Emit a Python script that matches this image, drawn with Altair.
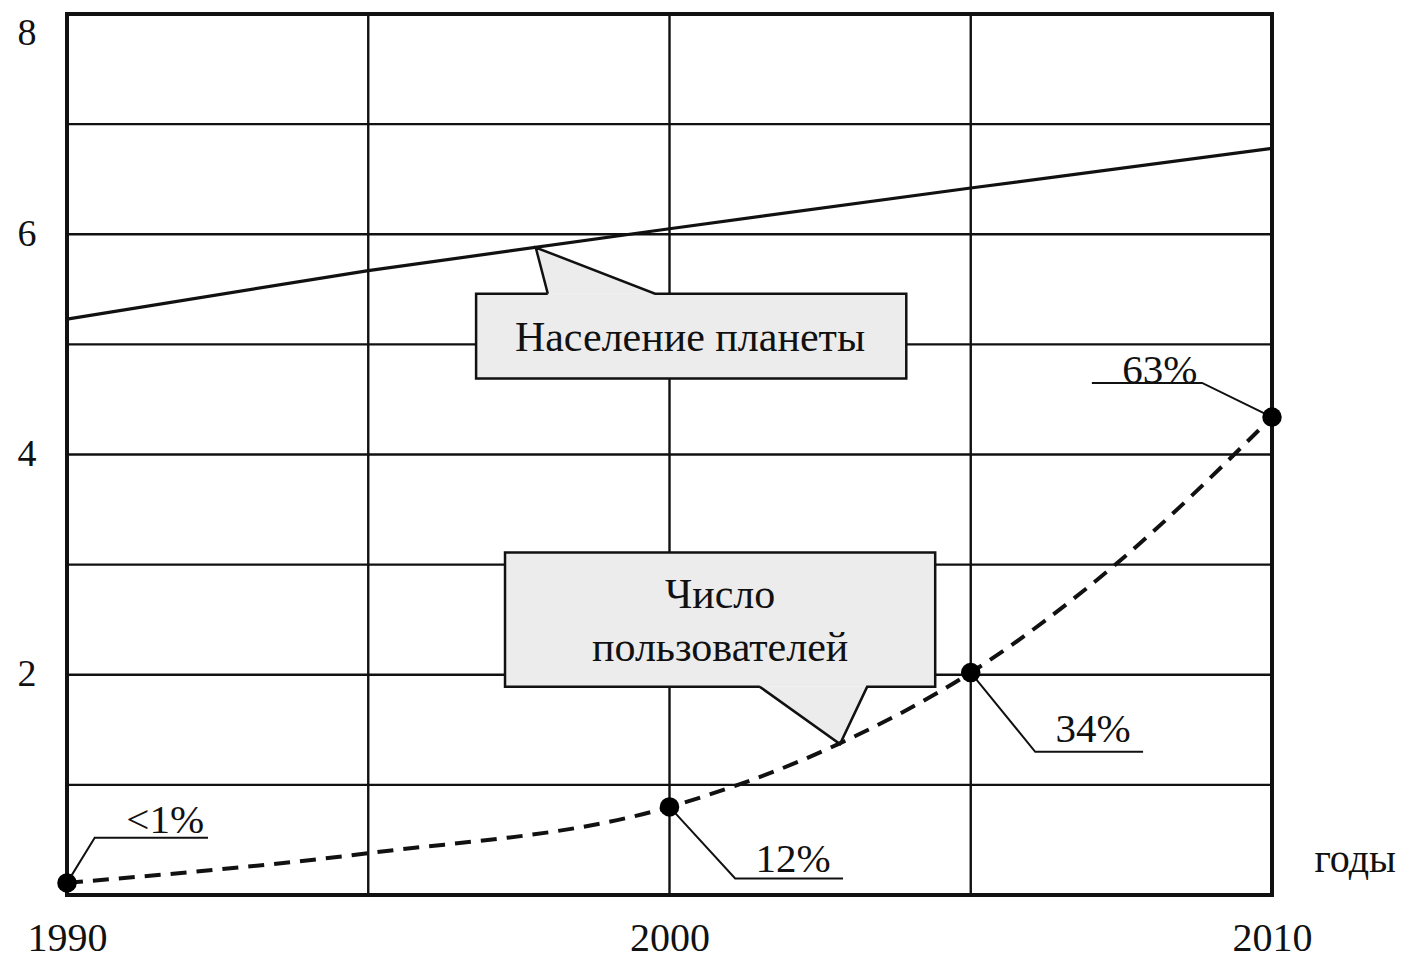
import altair as alt
import pandas as pd

FONT = "Liberation Serif"

# --- data ---
pop_years = [1990, 1995, 2000, 2005, 2010]
pop_values = [5.23, 5.67, 6.05, 6.42, 6.78]

user_years = [1990, 1995, 2000, 2002.8, 2005, 2007.4, 2010]
user_values = [0.11, 0.38, 0.80, 1.37, 2.02, 3.00, 4.34]

marker_years = [1990, 2000, 2005, 2010]
marker_values = [0.11, 0.80, 2.02, 4.34]
marker_labels = ["<1%", "12%", "34%", "63%"]

x_labels = [1990, 2000, 2010]
y_labels = [2, 4, 6, 8]
grid_years = [1995, 2000, 2005]
grid_values = [1, 2, 3, 4, 5, 6, 7]

# --- annotations (in data units) ---
box_x0 = [1996.79, 1997.27]
box_x1 = [2003.93, 2004.41]
box_y0 = [4.69, 1.89]
box_y1 = [5.46, 3.11]

outline_group = ["pop"] * 8 + ["usr"] * 8
outline_order = list(range(8)) * 2
outline_x = [1997.98, 1996.79, 1996.79, 2003.93, 2003.93, 1999.76, 1997.78, 1997.98,
             2001.50, 1997.27, 1997.27, 2004.41, 2004.41, 2003.28, 2002.83, 2001.50]
outline_y = [5.46, 5.46, 4.69, 4.69, 5.46, 5.46, 5.88, 5.46,
             1.89, 1.89, 3.11, 3.11, 1.89, 1.89, 1.37, 1.89]

ptr_group = ["pop"] * 3 + ["usr"] * 3
ptr_x = [1997.78, 1997.98, 1999.76, 2001.50, 2002.83, 2003.28]
ptr_top = [5.88, 5.838, 5.46, 1.89, 1.89, 1.89]
ptr_bot = [5.88, 5.46, 5.46, 1.89, 1.37, 1.89]

callout_text = ["Население планеты", "Число", "пользователей"]
callout_x = [2000.34, 2000.84, 2000.84]
callout_y = [5.06, 2.72, 2.24]

pct_x = [1991.63, 2002.05, 2007.03, 2008.14]
pct_y = [0.56, 0.21, 1.39, 4.65]

leader_group = ["a"] * 3 + ["b"] * 3 + ["c"] * 3 + ["d"] * 3
leader_order = [0, 1, 2] * 4
leader_x = [1990, 1990.46, 1992.34, 2000, 2001.09, 2002.88,
            2005, 2006.07, 2007.86, 2010, 2008.84, 2007.01]
leader_y = [0.11, 0.52, 0.52, 0.80, 0.15, 0.15,
            2.02, 1.30, 1.30, 4.34, 4.65, 4.65]

unit_label = ["годы"]
unit_x = [2011.38]
unit_y = [0.32]

# --- tables ---
pop_df = pd.DataFrame({"year": pop_years, "value": pop_values})
usr_df = pd.DataFrame({"year": user_years, "value": user_values})
mk_df = pd.DataFrame({"year": marker_years, "value": marker_values})
pct_df = pd.DataFrame({"year": pct_x, "value": pct_y, "label": marker_labels})
gx_df = pd.DataFrame({"year": grid_years})
gy_df = pd.DataFrame({"value": grid_values})
box_df = pd.DataFrame({"x0": box_x0, "x1": box_x1, "y0": box_y0, "y1": box_y1})
out_df = pd.DataFrame({"g": outline_group, "o": outline_order, "year": outline_x, "value": outline_y})
ptr_df = pd.DataFrame({"g": ptr_group, "year": ptr_x, "top": ptr_top, "bot": ptr_bot})
txt_df = pd.DataFrame({"year": callout_x, "value": callout_y, "label": callout_text})
lead_df = pd.DataFrame({"g": leader_group, "o": leader_order, "year": leader_x, "value": leader_y})
unit_df = pd.DataFrame({"year": unit_x, "value": unit_y, "label": unit_label})

xs = alt.Scale(domain=[1990, 2010], nice=False, zero=False)
ys = alt.Scale(domain=[0, 8], nice=False, zero=True)
xaxis = alt.Axis(values=x_labels, title=None, grid=False, domain=False, ticks=False,
                 labelFont=FONT, labelFontSize=40, labelColor="#111", labelPadding=23,
                 labelFlush=False, format="d", labelOverlap=False)
yaxis = alt.Axis(values=y_labels, title=None, grid=False, domain=False, ticks=False,
                 labelFont=FONT, labelFontSize=38, labelColor="#111", labelPadding=31,
                 labelFlush=True, labelOverlap=False)


def X(f="year"):
    return alt.X(f, type="quantitative", scale=xs, axis=xaxis)


def Y(f="value"):
    return alt.Y(f, type="quantitative", scale=ys, axis=yaxis)


grid_x = alt.Chart(gx_df).mark_rule(color="#111", strokeWidth=2.4).encode(x=X())
grid_y = alt.Chart(gy_df).mark_rule(color="#111", strokeWidth=2.4).encode(y=Y())

pop_line = alt.Chart(pop_df).mark_line(color="#111", strokeWidth=3.2).encode(x=X(), y=Y())

boxes = alt.Chart(box_df).mark_rect(fill="#ececec").encode(
    x=X("x0"), x2="x1", y=Y("y0"), y2="y1")
pointers = alt.Chart(ptr_df).mark_area(fill="#ececec", interpolate="linear").encode(
    x=X(), y=Y("top"), y2="bot", detail="g:N")
outlines = alt.Chart(out_df).mark_line(color="#111", strokeWidth=2.5, strokeJoin="miter").encode(
    x=X(), y=Y(), order="o:Q", detail="g:N")
callouts = alt.Chart(txt_df).mark_text(font=FONT, fontSize=42, color="#111",
                                       align="center", baseline="middle").encode(
    x=X(), y=Y(), text="label:N")

users = alt.Chart(usr_df).mark_line(color="#111", strokeWidth=4, strokeDash=[16, 10],
                                    interpolate="monotone").encode(x=X(), y=Y())
markers = alt.Chart(mk_df).mark_circle(color="#000", size=380, opacity=1).encode(x=X(), y=Y())
leaders = alt.Chart(lead_df).mark_line(color="#111", strokeWidth=2).encode(
    x=X(), y=Y(), order="o:Q", detail="g:N")
pcts = alt.Chart(pct_df).mark_text(font=FONT, fontSize=41, color="#111",
                                   align="center", baseline="alphabetic").encode(
    x=X(), y=Y(), text="label:N")
unit = alt.Chart(unit_df).mark_text(font=FONT, fontSize=40, color="#111",
                                    align="center", baseline="middle").encode(
    x=X(), y=Y(), text="label:N")

chart = alt.layer(
    grid_x, grid_y, pop_line, pointers, boxes, outlines, callouts,
    users, leaders, markers, pcts, unit
).properties(
    width=1205, height=881,
    autosize=alt.AutoSizeParams(type="none"),
    padding={"left": 59, "top": 6, "right": 128, "bottom": 64},
    background="white",
).configure_view(stroke="#111", strokeWidth=4)

chart.save("out.html", embed_options={"renderer": "svg", "actions": False})
